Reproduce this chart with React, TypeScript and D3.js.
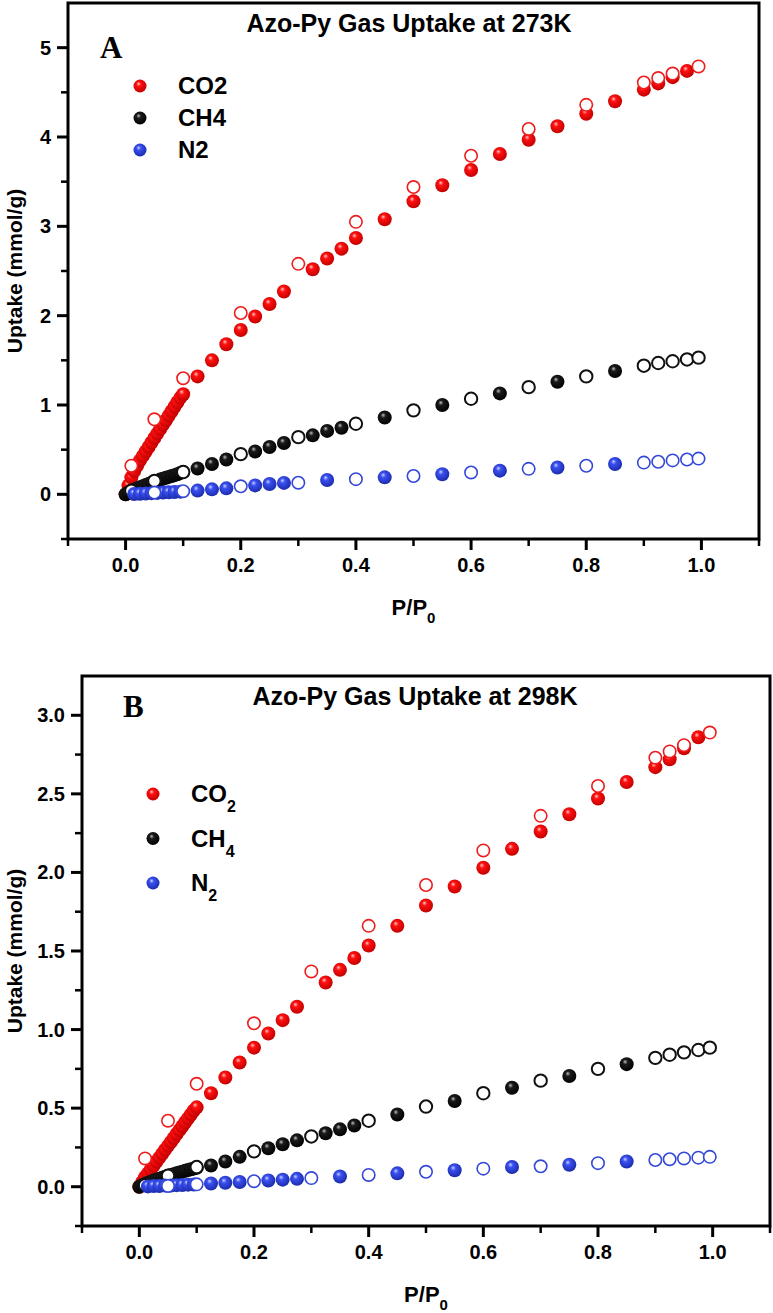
import React from 'react';
import * as d3 from 'd3';

// ---------- axis ticks ----------
const xMajor = [0, 0.2, 0.4, 0.6, 0.8, 1.0];
const xMajorLabels = ['0.0', '0.2', '0.4', '0.6', '0.8', '1.0'];
const xMinor = [-0.1, 0.1, 0.3, 0.5, 0.7, 0.9, 1.1];
const yMajorA = [0, 1, 2, 3, 4, 5];
const yMajorLabelsA = ['0', '1', '2', '3', '4', '5'];
const yMinorA = [-0.5, 0.5, 1.5, 2.5, 3.5, 4.5];
const yMajorB = [0, 0.5, 1, 1.5, 2, 2.5, 3];
const yMajorLabelsB = ['0.0', '0.5', '1.0', '1.5', '2.0', '2.5', '3.0'];
const yMinorB = [-0.25, 0.25, 0.75, 1.25, 1.75, 2.25, 2.75];

// ---------- pressures (P/P0) ----------
const pDense = [0, 0.005, 0.01, 0.015, 0.02, 0.025, 0.03, 0.035, 0.04, 0.045, 0.05, 0.055, 0.06, 0.065, 0.07, 0.075, 0.08, 0.085, 0.09, 0.095, 0.1];
const pMidCO2 = [0.125, 0.15, 0.175, 0.2, 0.225, 0.25, 0.275, 0.325, 0.35, 0.375, 0.4, 0.45, 0.5, 0.55, 0.6, 0.65, 0.7, 0.75, 0.8, 0.85, 0.9, 0.925, 0.95, 0.975];
const pMidCH4 = [0.125, 0.15, 0.175, 0.225, 0.25, 0.275, 0.325, 0.35, 0.375, 0.45, 0.55, 0.65, 0.75, 0.85];
const pDenseN2 = [0.015, 0.025, 0.035, 0.045, 0.055, 0.065, 0.075, 0.085, 0.095];
const pMidN2 = [0.125, 0.15, 0.175, 0.225, 0.25, 0.275, 0.35, 0.45, 0.55, 0.65, 0.75, 0.85];
const pDes = [0.01, 0.05, 0.1, 0.2, 0.3, 0.4, 0.5, 0.6, 0.7, 0.8, 0.9, 0.925, 0.95, 0.975, 0.995];

// ---------- 273 K uptake (mmol/g) ----------
const co2Ads273 = [0, 0.1, 0.19, 0.26, 0.32, 0.38, 0.43, 0.48, 0.53, 0.58, 0.63, 0.68, 0.73, 0.78, 0.83, 0.88, 0.93, 0.98, 1.03, 1.08, 1.12,
  1.32, 1.5, 1.68, 1.84, 1.99, 2.13, 2.27, 2.52, 2.64, 2.75, 2.87, 3.08, 3.28, 3.46, 3.63, 3.81, 3.97, 4.12, 4.26, 4.4, 4.53, 4.6, 4.67, 4.74];
const co2Des273 = [0.32, 0.84, 1.3, 2.03, 2.58, 3.05, 3.44, 3.79, 4.09, 4.36, 4.61, 4.66, 4.71, null, 4.79];
const ch4Ads273 = [0, 0.02, 0.035, 0.05, 0.065, 0.08, 0.09, 0.105, 0.115, 0.13, 0.14, 0.15, 0.165, 0.175, 0.185, 0.195, 0.205, 0.215, 0.225, 0.24, 0.25,
  0.29, 0.34, 0.39, 0.48, 0.53, 0.575, 0.66, 0.71, 0.745, 0.86, 1.0, 1.13, 1.26, 1.38];
const ch4Des273 = [0.04, 0.15, 0.25, 0.45, 0.64, 0.79, 0.94, 1.07, 1.2, 1.32, 1.44, 1.47, 1.49, 1.51, 1.53];
const n2Ads273 = [0.004, 0.007, 0.01, 0.013, 0.016, 0.02, 0.023, 0.026, 0.03,
  0.042, 0.056, 0.067, 0.1, 0.115, 0.128, 0.16, 0.19, 0.225, 0.265, 0.3, 0.34];
const n2Des273 = [null, 0.02, 0.035, 0.09, 0.13, 0.17, 0.205, 0.245, 0.285, 0.32, 0.355, 0.365, 0.38, 0.39, 0.4];

// ---------- 298 K uptake (mmol/g) ----------
const co2Ads298 = [0, 0.03, 0.06, 0.085, 0.11, 0.135, 0.16, 0.185, 0.21, 0.235, 0.26, 0.285, 0.31, 0.335, 0.36, 0.385, 0.41, 0.435, 0.46, 0.485, 0.505,
  0.595, 0.695, 0.79, 0.885, 0.975, 1.06, 1.145, 1.3, 1.38, 1.455, 1.535, 1.66, 1.79, 1.91, 2.03, 2.15, 2.26, 2.37, 2.47, 2.575, 2.67, 2.72, 2.79, 2.86];
const co2Des298 = [0.18, 0.42, 0.655, 1.04, 1.37, 1.66, 1.92, 2.14, 2.36, 2.55, 2.73, 2.77, 2.81, null, 2.89];
const ch4Ads298 = [0, 0.01, 0.018, 0.025, 0.032, 0.039, 0.045, 0.051, 0.057, 0.063, 0.069, 0.075, 0.08, 0.086, 0.091, 0.096, 0.101, 0.106, 0.111, 0.116, 0.12,
  0.135, 0.16, 0.19, 0.245, 0.27, 0.295, 0.34, 0.365, 0.39, 0.46, 0.545, 0.63, 0.705, 0.78];
const ch4Des298 = [0.01, 0.07, 0.125, 0.225, 0.32, 0.42, 0.51, 0.595, 0.675, 0.75, 0.82, 0.84, 0.855, 0.87, 0.885];
const n2Ads298 = [0.002, 0.004, 0.005, 0.007, 0.008, 0.01, 0.011, 0.013, 0.014,
  0.02, 0.025, 0.03, 0.04, 0.045, 0.05, 0.065, 0.085, 0.105, 0.125, 0.14, 0.16];
const n2Des298 = [null, 0.005, 0.015, 0.035, 0.055, 0.075, 0.095, 0.115, 0.13, 0.15, 0.17, 0.175, 0.18, 0.185, 0.19];

const gasNames = ['CO2', 'CH4', 'N2'];
const gasColors = ['#ee1c1c', '#111111', '#3347d8'];

type Pt = [number, number];
const zip = (xs: number[], ys: (number | null)[]): Pt[] =>
  xs.map((x, i) => [x, ys[i]] as [number, number | null]).filter((d) => d[1] !== null) as Pt[];

const FONT = "'Liberation Sans', Arial, sans-serif";

function Gradients() {
  const defs = [
    { id: 'g0', hi: '#ffc8c8', mid: '#ff1010', lo: '#c00000' },
    { id: 'g1', hi: '#bdbdbd', mid: '#1a1a1a', lo: '#000000' },
    { id: 'g2', hi: '#c8d0ff', mid: '#3a50f0', lo: '#1a2aa8' },
  ];
  return (
    <defs>
      {defs.map((d) => (
        <radialGradient key={d.id} id={d.id} cx="0.45" cy="0.42" r="0.6" fx="0.38" fy="0.32">
          <stop offset="0" stopColor={d.hi} />
          <stop offset="0.3" stopColor={d.mid} />
          <stop offset="1" stopColor={d.lo} />
        </radialGradient>
      ))}
    </defs>
  );
}

interface PanelCfg {
  left: number; right: number; top: number; bottom: number;
  yDomain: [number, number];
  yMajor: number[]; yMajorLabels: string[]; yMinor: number[];
  title: string; titleX: number;
  letter: string; letterX: number; letterY: number;
  legendX: number; legendY: number; legendGap: number; subscripts: boolean;
  ads: Pt[][]; des: Pt[][];
}

function Panel({ c }: { c: PanelCfg }) {
  const x = d3.scaleLinear().domain([-0.1, 1.1]).range([c.left, c.right]);
  const y = d3.scaleLinear().domain(c.yDomain).range([c.bottom, c.top]);
  const cxm = (c.left + c.right) / 2;
  const cym = (c.top + c.bottom) / 2;
  const R = 7;
  return (
    <g>
      {/* data */}
      {[0, 1, 2].map((g) => (
        <g key={g}>
          {c.ads[g].map((d, i) => (
            <circle key={'a' + i} cx={x(d[0])} cy={y(d[1])} r={R} fill={`url(#g${g})`} />
          ))}
          {c.des[g].map((d, i) => (
            <circle key={'d' + i} cx={x(d[0])} cy={y(d[1])} r={R - 0.8} fill="#fff" stroke={gasColors[g]} strokeWidth={g === 1 ? 2 : 1.6} />
          ))}
        </g>
      ))}
      {/* frame */}
      <rect x={c.left} y={c.top} width={c.right - c.left} height={c.bottom - c.top} fill="none" stroke="#000" strokeWidth={3} />
      {/* x ticks */}
      {xMajor.map((v, i) => (
        <g key={'xm' + i}>
          <line x1={x(v)} x2={x(v)} y1={c.bottom} y2={c.bottom + 11} stroke="#000" strokeWidth={3} />
          <text x={x(v)} y={c.bottom + 33} textAnchor="middle" fontFamily={FONT} fontWeight="bold" fontSize={20}>{xMajorLabels[i]}</text>
        </g>
      ))}
      {xMinor.map((v, i) => (
        <line key={'xn' + i} x1={x(v)} x2={x(v)} y1={c.bottom} y2={c.bottom + 7} stroke="#000" strokeWidth={2.5} />
      ))}
      {/* y ticks */}
      {c.yMajor.map((v, i) => (
        <g key={'ym' + i}>
          <line x1={c.left - 11} x2={c.left} y1={y(v)} y2={y(v)} stroke="#000" strokeWidth={3} />
          <text x={c.left - 17} y={y(v) + 7} textAnchor="end" fontFamily={FONT} fontWeight="bold" fontSize={20}>{c.yMajorLabels[i]}</text>
        </g>
      ))}
      {c.yMinor.map((v, i) => (
        <line key={'yn' + i} x1={c.left - 7} x2={c.left} y1={y(v)} y2={y(v)} stroke="#000" strokeWidth={2.5} />
      ))}
      {/* axis titles */}
      <text x={cxm} y={c.bottom + 76} textAnchor="middle" fontFamily={FONT} fontWeight="bold" fontSize={22}>
        P/P<tspan fontSize={15} dy={8}>0</tspan>
      </text>
      <text transform={`translate(22,${cym}) rotate(-90)`} textAnchor="middle" fontFamily={FONT} fontWeight="bold" fontSize={21}>Uptake (mmol/g)</text>
      {/* title */}
      <text x={c.titleX} y={c.top + 29} textAnchor="middle" fontFamily={FONT} fontWeight="bold" fontSize={25}>{c.title}</text>
      <text x={c.letterX} y={c.letterY} fontFamily="'Liberation Serif', 'Times New Roman', serif" fontWeight="bold" fontSize={31}>{c.letter}</text>
      {/* legend */}
      {gasNames.map((n, g) => {
        const cy = c.legendY + g * c.legendGap;
        const base = n.replace(/\d/g, '');
        const sub = n.replace(/\D/g, '');
        return (
          <g key={'l' + g}>
            <circle cx={c.legendX} cy={cy} r={6.5} fill={`url(#g${g})`} />
            <text x={c.legendX + 38} y={cy + 8} fontFamily={FONT} fontWeight="bold" fontSize={24}>
              {c.subscripts ? (
                <>
                  {base}
                  <tspan fontSize={16} dy={10}>{sub}</tspan>
                </>
              ) : n}
            </text>
          </g>
        );
      })}
    </g>
  );
}

export default function App() {
  const panelA: PanelCfg = {
    left: 68, right: 759, top: 3, bottom: 539,
    yDomain: [-0.5, 5.5], yMajor: yMajorA, yMajorLabels: yMajorLabelsA, yMinor: yMinorA,
    title: 'Azo-Py Gas Uptake at 273K', titleX: 409,
    letter: 'A', letterX: 100, letterY: 58,
    legendX: 140, legendY: 86, legendGap: 32, subscripts: false,
    ads: [zip([...pDense, ...pMidCO2], co2Ads273), zip([...pDense, ...pMidCH4], ch4Ads273), zip([...pDenseN2, ...pMidN2], n2Ads273)],
    des: [zip(pDes, co2Des273), zip(pDes, ch4Des273), zip(pDes, n2Des273)],
  };
  const panelB: PanelCfg = {
    left: 82, right: 770, top: 676, bottom: 1226,
    yDomain: [-0.25, 3.25], yMajor: yMajorB, yMajorLabels: yMajorLabelsB, yMinor: yMinorB,
    title: 'Azo-Py Gas Uptake at 298K', titleX: 415,
    letter: 'B', letterX: 123, letterY: 717,
    legendX: 153, legendY: 794, legendGap: 44.5, subscripts: true,
    ads: [zip([...pDense, ...pMidCO2], co2Ads298), zip([...pDense, ...pMidCH4], ch4Ads298), zip([...pDenseN2, ...pMidN2], n2Ads298)],
    des: [zip(pDes, co2Des298), zip(pDes, ch4Des298), zip(pDes, n2Des298)],
  };
  return (
    <svg width={773} height={1313} style={{ position: 'absolute', left: 0, top: 0, background: '#fff' }}>
      <Gradients />
      <rect x={0} y={0} width={773} height={1313} fill="#fff" />
      <Panel c={panelA} />
      <Panel c={panelB} />
    </svg>
  );
}
